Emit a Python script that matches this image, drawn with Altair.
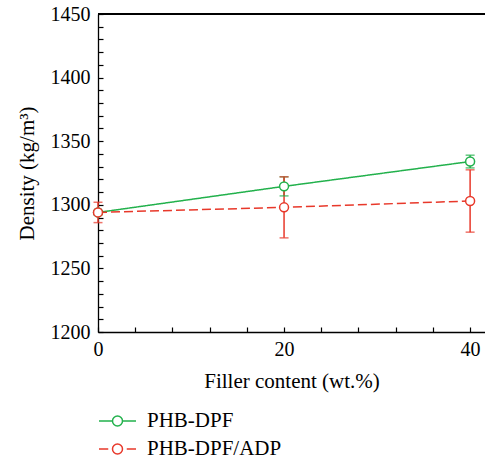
import altair as alt
import pandas as pd

# ---- data ----
filler = [0, 20, 40]
dpf_mean = [1294, 1314.5, 1334]
dpf_err = [1, 7.5, 5]
adp_mean = [1294, 1298, 1303]
adp_err = [8, 24, 24.5]
series_names = ["PHB-DPF", "PHB-DPF/ADP"]
colors = ["#22b14c", "#e8382a"]
x_major = [0, 20, 40]
x_minor = list(range(0, 41, 4))
y_major = [1200, 1250, 1300, 1350, 1400, 1450]
y_minor = list(range(1200, 1451, 10))

rows = []
for name, means, errs in [(series_names[0], dpf_mean, dpf_err),
                          (series_names[1], adp_mean, adp_err)]:
    for xv, m, e in zip(filler, means, errs):
        rows.append({"series": name, "x": xv, "y": m, "lo": m - e, "hi": m + e})
df = pd.DataFrame(rows)

FONT = "Liberation Serif"
W, H = 387, 318
XMAX = 41.6
xs = alt.Scale(domain=[0, XMAX], nice=False, zero=False)
ys = alt.Scale(domain=[1200, 1450], nice=False, zero=False)
cscale = alt.Scale(domain=series_names, range=colors)

main_x_axis = alt.Axis(values=x_major, format="d", title="Filler content (wt.%)", ticks=False,
                       labelPadding=7, labelFlush=False, domainColor="black", domainWidth=1.3,
                       labelFontSize=20, titleFontSize=21, grid=False,
                       titleY=49, titleBaseline="middle")
main_y_axis = alt.Axis(values=y_major, format="d", title="Density (kg/m³)", ticks=False,
                       labelPadding=8, labelFlush=False, domainColor="black", domainWidth=1.3,
                       labelFontSize=20, titleFontSize=21, grid=False,
                       titleX=-71, titleBaseline="middle", titleAngle=-90)
tick_x_axis = alt.Axis(orient="top", offset=-H, values=x_minor, labels=False,
                       domain=False, tickSize=5, tickColor="black", tickWidth=1.2,
                       title=None, grid=False)
tick_y_axis = alt.Axis(orient="right", offset=-W, values=y_minor, labels=False,
                       domain=False, tickSize=5, tickColor="black", tickWidth=1.2,
                       title=None, grid=False)

base = alt.Chart(df)

lines = base.mark_line(strokeWidth=1.5).encode(
    x=alt.X("x:Q", scale=xs, axis=main_x_axis),
    y=alt.Y("y:Q", scale=ys, axis=main_y_axis),
    color=alt.Color("series:N", scale=cscale, legend=None),
    strokeDash=alt.StrokeDash("series:N",
                              scale=alt.Scale(domain=series_names, range=[[1, 0], [9, 4]]),
                              legend=None),
)

err_rules = base.mark_rule(strokeWidth=1.5).encode(
    x=alt.X("x:Q", scale=xs, axis=tick_x_axis),
    y=alt.Y("lo:Q", scale=ys, axis=tick_y_axis),
    y2="hi:Q",
    color=alt.Color("series:N", scale=cscale, legend=None),
)

caps = base.transform_fold(["lo", "hi"], as_=["end", "val"]).mark_tick(
    orient="horizontal", size=9, thickness=1.5
).encode(
    x=alt.X("x:Q", scale=xs, axis=None),
    y=alt.Y("val:Q", scale=ys, axis=None),
    color=alt.Color("series:N", scale=cscale, legend=None),
)

points = base.mark_point(shape="circle", filled=True, fill="white", size=80,
                         strokeWidth=1.5, opacity=1).encode(
    x=alt.X("x:Q", scale=xs, axis=None),
    y=alt.Y("y:Q", scale=ys, axis=None),
    stroke=alt.Stroke("series:N", scale=cscale, legend=None),
)

top_rule = alt.Chart(df).mark_rule(color="black", strokeWidth=1.3).encode(
    x=alt.X(datum=0, scale=xs, axis=None),
    x2=alt.X2(datum=XMAX),
    y=alt.Y(datum=1450, scale=ys, axis=None),
)

path_solid = ("M-1,0L-0.27,0M0.27,0L1,0"
              "M0.27,0A0.27,0.27,0,1,1,-0.27,0A0.27,0.27,0,1,1,0.27,0Z")
path_dash = ("M-1,0L-0.5,0M0.5,0L1,0"
             "M0.27,0A0.27,0.27,0,1,1,-0.27,0A0.27,0.27,0,1,1,0.27,0Z")

legend = alt.Legend(orient="none", legendX=0, legendY=396, padding=0, title=None,
                    symbolSize=1369, symbolStrokeWidth=1.5, symbolOpacity=1,
                    labelFont=FONT, labelFontSize=21, labelColor="black",
                    labelOffset=10, clipHeight=22, rowPadding=6,
                    labelLimit=300)

legend_layer = alt.Chart(df).mark_point(opacity=0).encode(
    x=alt.X("x:Q", scale=xs, axis=None),
    y=alt.Y("y:Q", scale=ys, axis=None),
    color=alt.Color("series:N", scale=cscale, legend=legend),
    shape=alt.Shape("series:N", scale=alt.Scale(domain=series_names,
                                                range=[path_solid, path_dash]),
                    legend=legend),
)

chart = alt.layer(lines, err_rules, caps, points, top_rule, legend_layer).resolve_axis(
    x="independent", y="independent"
).resolve_legend(
    color="independent", shape="independent"
).properties(
    width=W, height=H,
    autosize=alt.AutoSizeParams(type="none"),
    padding={"left": 98, "top": 14, "right": 0, "bottom": 130},
).configure_axis(
    labelFont=FONT, titleFont=FONT, labelColor="black", titleColor="black",
    titleFontWeight="normal",
).configure_view(stroke=None)

chart.save("out.html", embed_options={"renderer": "svg", "actions": False})
